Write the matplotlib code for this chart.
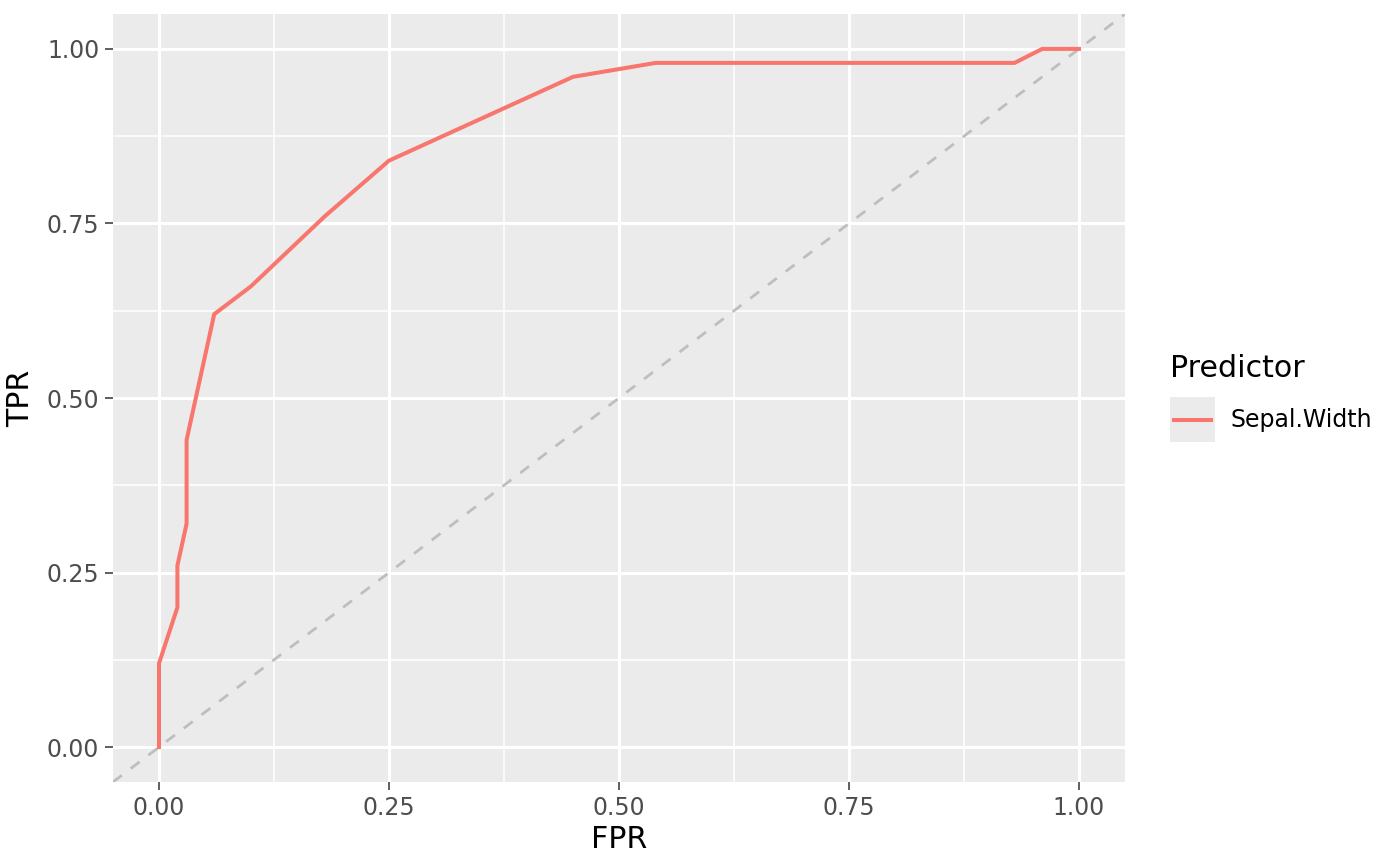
import matplotlib
matplotlib.use("Agg")
import matplotlib.pyplot as plt
from matplotlib.patches import Rectangle
from matplotlib.lines import Line2D
import numpy as np

fpr = [0.00, 0.00, 0.02, 0.02, 0.03, 0.03, 0.06, 0.10, 0.18, 0.25, 0.45, 0.54, 0.93, 0.96, 1.00]
tpr = [0.00, 0.12, 0.20, 0.26, 0.32, 0.44, 0.62, 0.66, 0.76, 0.84, 0.96, 0.98, 0.98, 1.00, 1.00]
series_name = "Sepal.Width"
ticks = [0.0, 0.25, 0.5, 0.75, 1.0]
tick_labels = ["0.00", "0.25", "0.50", "0.75", "1.00"]
minor_ticks = [0.125, 0.375, 0.625, 0.875]

W, H, DPI = 1400, 866, 200
fig = plt.figure(figsize=(W / DPI, H / DPI), dpi=DPI)
fig.patch.set_facecolor("white")
ax = fig.add_axes([113 / W, 1 - 782 / H, (1125 - 113) / W, (782 - 14) / H])
ax.set_facecolor("#EBEBEB")
for s in ax.spines.values():
    s.set_visible(False)

ax.set_xlim(-0.05, 1.05)
ax.set_ylim(-0.05, 1.05)

for m in minor_ticks:
    ax.axvline(m, color="white", lw=0.55, zorder=0.5)
    ax.axhline(m, color="white", lw=0.55, zorder=0.5)
for t in ticks:
    ax.axvline(t, color="white", lw=1.1, zorder=0.6)
    ax.axhline(t, color="white", lw=1.1, zorder=0.6)

ax.plot([-0.05, 1.05], [-0.05, 1.05], color="#BEBEBE", lw=1.0, ls=(0, (4, 4)), zorder=1)
ax.plot(fpr, tpr, color="#F8766D", lw=1.45, zorder=2, solid_joinstyle="miter")

ax.set_xticks(ticks)
ax.set_xticklabels(tick_labels)
ax.set_yticks(ticks)
ax.set_yticklabels(tick_labels)
ax.tick_params(axis="both", which="both", color="#333333", length=2.75, width=0.55,
               labelsize=8.5, labelcolor="#4D4D4D", pad=2.2)
ax.set_xlabel("FPR", fontsize=10.8, color="black", labelpad=2)
ax.set_ylabel("TPR", fontsize=10.8, color="black", labelpad=4)

# legend
fig.text(1170 / W, 1 - 369 / H, "Predictor", fontsize=10.8, ha="left", va="center")
fig.patches.append(Rectangle((1170 / W, 1 - 442 / H), 45 / W, 45 / H,
                             transform=fig.transFigure, facecolor="#EBEBEB", edgecolor="none"))
fig.lines.append(Line2D([1174 / W, 1211 / W], [1 - 420 / H, 1 - 420 / H],
                        transform=fig.transFigure, color="#F8766D", lw=1.45))
fig.text(1230 / W, 1 - 420 / H, series_name, fontsize=8.5, ha="left", va="center")

fig.savefig("out.png", dpi=DPI)
